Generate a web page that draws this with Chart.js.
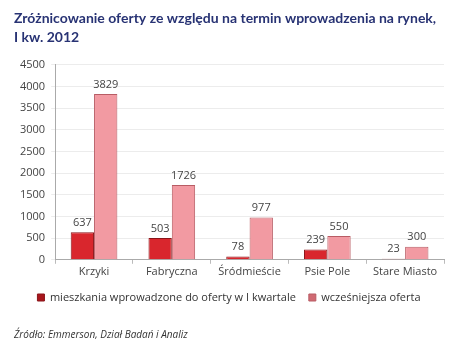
<!DOCTYPE html>
<html><head><meta charset="utf-8">
<script src="https://cdn.jsdelivr.net/npm/chart.js@4"></script>
<style>html,body{margin:0;padding:0;background:#fff}#w{position:relative;width:450px;height:354px}</style>
</head><body><div id="w"><canvas id="c" width="450" height="354"></canvas></div>
<script>
const categories = ["Krzyki", "Fabryczna", "Śródmieście", "Psie Pole", "Stare Miasto"];
const newOffer = [637, 503, 78, 239, 23];
const earlierOffer = [3829, 1726, 977, 550, 300];
const seriesNames = ["mieszkania wprowadzone do oferty w I kwartale", "wcześniejsza oferta"];
const titleLines = ["Zróżnicowanie oferty ze względu na termin wprowadzenia na rynek,", "I kw. 2012"];
const sourceText = "Źródło: Emmerson, Dział Badań i Analiz";

function grad(ctx, c1, c2, c3){
  const ch = ctx.chart; const a = ch.chartArea;
  if(!a) return c2;
  const el = ctx.element;
  if(!el || el.x === undefined) return c2;
  const w = el.width || 20;
  const g = ch.ctx.createLinearGradient(el.x - w/2, 0, el.x + w/2, 0);
  g.addColorStop(0, c1); g.addColorStop(0.5, c2); g.addColorStop(1, c3);
  return g;
}
const labelsPlugin = {
  id:'vals',
  afterDatasetsDraw(chart){
    const ctx = chart.ctx;
    ctx.save();
    ctx.font = '11px "Open Sans", sans-serif';
    ctx.fillStyle = '#444';
    ctx.textAlign = 'center';
    ctx.textBaseline = 'bottom';
    chart.data.datasets.forEach((ds, i) => {
      chart.getDatasetMeta(i).data.forEach((b, j) => {
        ctx.fillText(ds.data[j], b.x, b.y - 4);
      });
    });
    ctx.restore();
  }
};
new Chart(document.getElementById('c'), {
  type:'bar',
  data:{
    labels: categories,
    datasets:[
      {label: seriesNames[0], data: newOffer,
       backgroundColor: ctx => grad(ctx, '#a8161c', '#d9262d', '#9a1218'),
       borderColor:'#8a1519', borderWidth:1, categoryPercentage:0.6, barPercentage:1},
      {label: seriesNames[1], data: earlierOffer,
       backgroundColor: ctx => grad(ctx, '#d8737c', '#f29aa2', '#d06a73'),
       borderColor:'#b85c64', borderWidth:1, categoryPercentage:0.6, barPercentage:1}
    ]
  },
  options:{
    responsive:false, animation:false,
    layout:{padding:{left:14, right:6, top:0, bottom:0}},
    plugins:{
      title:{display:true, text:titleLines, align:'start', color:'#283374',
        font:{family:'Lato', size:14, weight:'bold', lineHeight:1.35}, padding:{top:9,bottom:18}},
      subtitle:{display:true, text:sourceText, position:'bottom', align:'start', color:'#333',
        font:{family:'"Open Sans"', size:10, style:'italic'}, padding:{top:16,bottom:13}},
      legend:{position:'bottom', labels:{boxWidth:7, boxHeight:7, color:'#333', padding:13,
        font:{family:'"Open Sans"', size:11}}},
      tooltip:{enabled:false}
    },
    scales:{
      x:{grid:{drawOnChartArea:false, drawTicks:true, tickLength:4, offset:true, color:'#bbb'},
         border:{color:'#aaa'},
         ticks:{color:'#444', font:{family:'"Open Sans"', size:11}, padding:1}},
      y:{min:0, max:4500, ticks:{stepSize:500, color:'#444', font:{family:'"Open Sans"', size:11}, padding:6,
           callback: v => String(v)},
         grid:{color:'#ececec', drawTicks:true, tickLength:4}, border:{color:'#aaa'}}
    }
  },
  plugins:[labelsPlugin]
});
</script></body></html>
